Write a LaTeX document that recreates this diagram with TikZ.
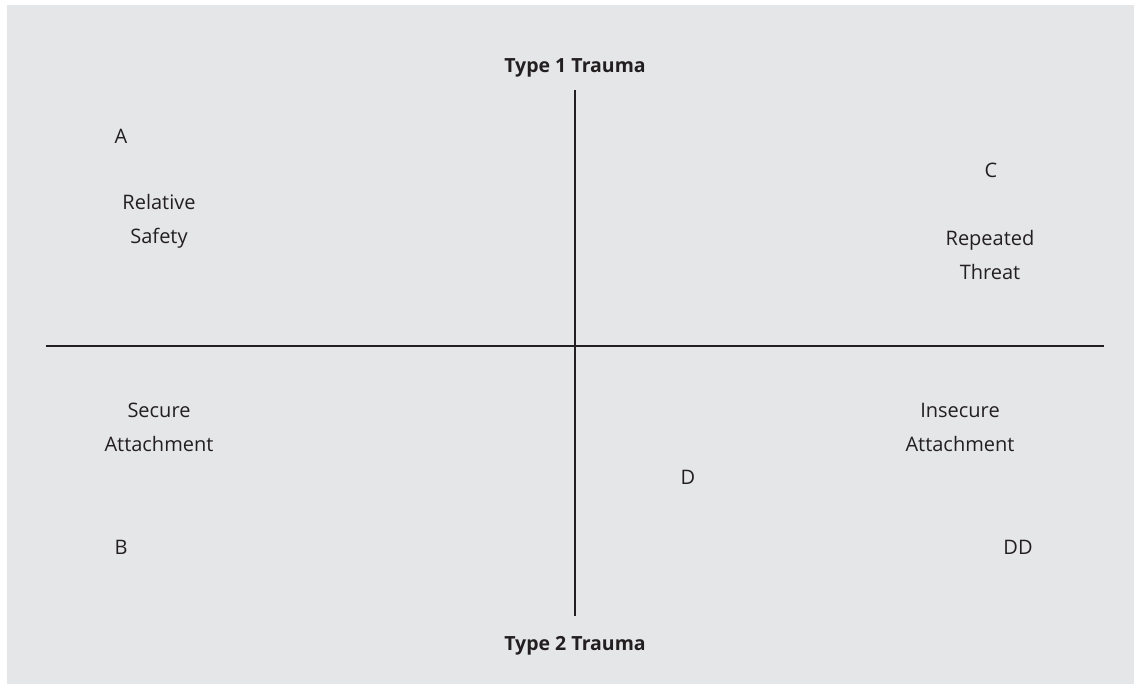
\documentclass[tikz,border=0pt]{standalone}
\usepackage{fontspec}
\setmainfont{Open Sans}
\usepackage{xcolor}
\definecolor{panelgray}{HTML}{E5E6E8}
\definecolor{inkdark}{HTML}{231F20}
\tikzset{
  lbl/.style={text=inkdark,align=center,font=\fontsize{20}{34}\selectfont},
  axislbl/.style={text=inkdark,font=\fontsize{19.5}{24}\selectfont\bfseries},
  axis/.style={draw=inkdark,line width=2pt}
}

\begin{document}
\begin{tikzpicture}[x=1pt,y=-1pt]
\useasboundingbox (0,0) rectangle (1134,684);
\fill[panelgray] (7,5) rectangle (1134,684);
% axes
\coordinate (xl) at (46,346);
\coordinate (xr) at (1104,346);
\coordinate (yt) at (575,90);
\coordinate (yb) at (575,616);
\draw[axis] (xl) -- (xr);
\draw[axis] (yt) -- (yb);
\node[axislbl] (type1) at (575,68) {Type 1 Trauma};
\node[axislbl] (type2) at (575,646) {Type 2 Trauma};
% quadrants
\node[lbl] (qa) at (121,136) {A};
\node[lbl] (safe) at (159,221) {Relative\\Safety};
\node[lbl] (qc) at (991,170) {C};
\node[lbl] (threat) at (990,255) {Repeated\\Threat};
\node[lbl] (secure) at (159,427) {Secure\\Attachment};
\node[lbl] (insecure) at (960,427) {Insecure\\Attachment};
\node[lbl] (qd) at (688,477) {D};
\node[lbl] (qb) at (121,547) {B};
\node[lbl] (qdd) at (1018,547) {DD};
\end{tikzpicture}
\end{document}
